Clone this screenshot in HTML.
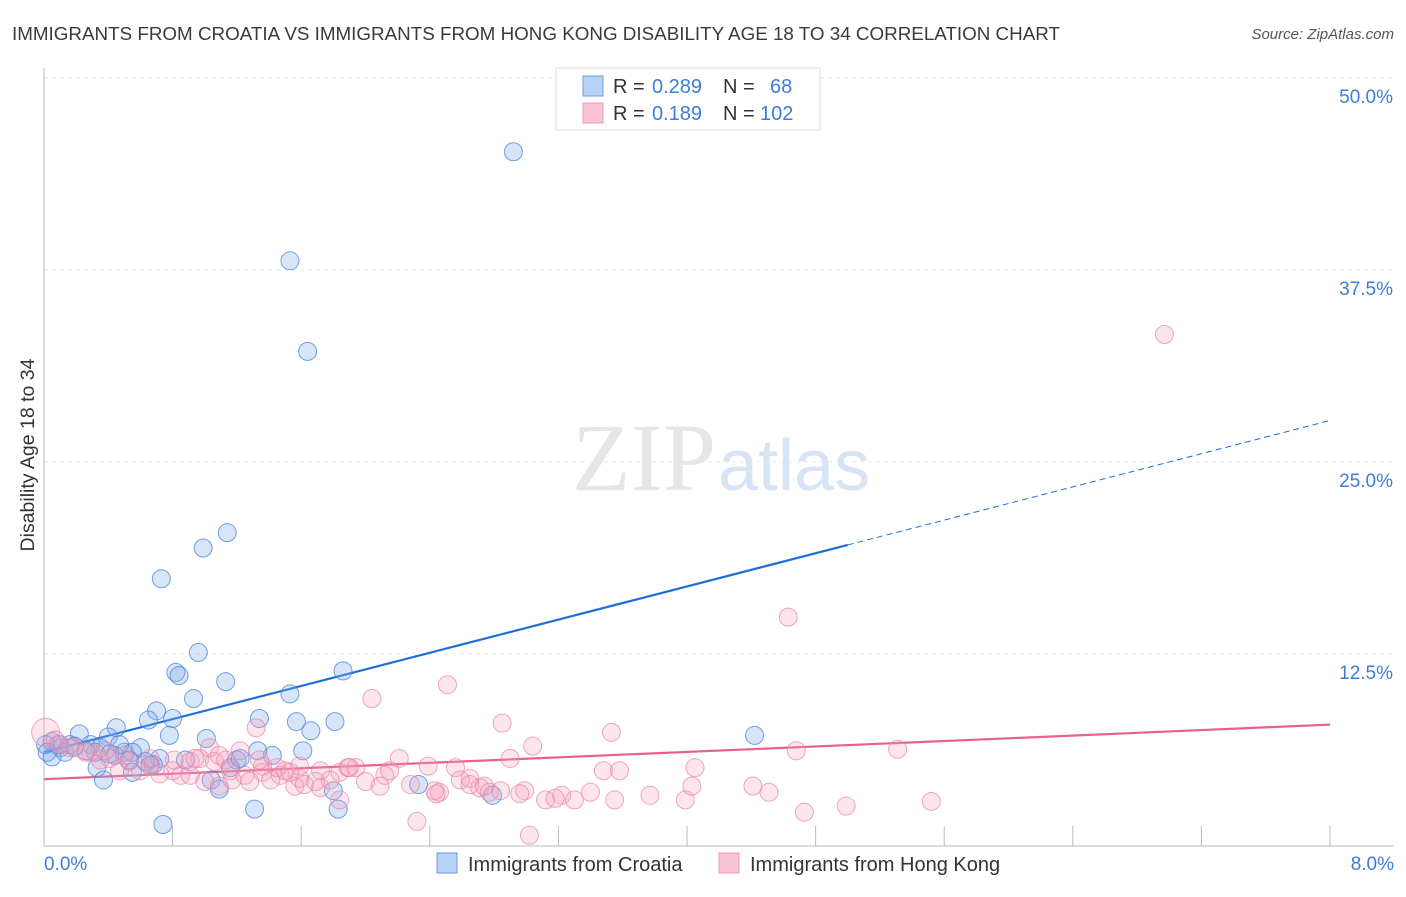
<!DOCTYPE html>
<html><head><meta charset="utf-8"><style>
body{margin:0;background:#fff;font-family:"Liberation Sans",sans-serif;}
</style></head><body>
<svg id="chart" width="1406" height="892" xmlns="http://www.w3.org/2000/svg" font-family="Liberation Sans, sans-serif">
<text x="12" y="40" font-size="18" fill="#3a3a3a" textLength="1048" lengthAdjust="spacingAndGlyphs">IMMIGRANTS FROM CROATIA VS IMMIGRANTS FROM HONG KONG DISABILITY AGE 18 TO 34 CORRELATION CHART</text>
<text x="1394" y="39" font-size="15" fill="#555" font-style="italic" text-anchor="end">Source: ZipAtlas.com</text>
<text x="716" y="490" font-size="96" fill="#e6e6e6" text-anchor="end" font-family="Liberation Serif, serif">ZIP</text>
<text x="718" y="490" font-size="72" fill="#d6e4f5">atlas</text>
<g id="grid"></g><g id="axes"></g><g id="lines"></g><g id="pts"></g>
<text transform="translate(34,455) rotate(-90)" font-size="19.5" fill="#333" text-anchor="middle">Disability Age 18 to 34</text>
<text x="44" y="870" font-size="19" fill="#3d7dd8">0.0%</text>
<text x="1394" y="870" font-size="19" fill="#3d7dd8" text-anchor="end">8.0%</text>
<g>
<rect x="556" y="68" width="264" height="62" fill="#fff" stroke="#ddd"/>
<rect x="583" y="76" width="20" height="20" fill="#b8d3f5" stroke="#6a9ee0"/>
<rect x="583" y="103" width="20" height="20" fill="#f9c4d4" stroke="#ee9ab5"/>
<text y="93" font-size="20" fill="#333"><tspan x="613">R =</tspan><tspan x="652" fill="#3d7dd8">0.289</tspan><tspan x="723">N =</tspan><tspan x="770" fill="#3d7dd8">68</tspan></text>
<text y="120" font-size="20" fill="#333"><tspan x="613">R =</tspan><tspan x="652" fill="#3d7dd8">0.189</tspan><tspan x="723">N =</tspan><tspan x="760" fill="#3d7dd8">102</tspan></text>
</g>
<g>
<rect x="437" y="853" width="20" height="20" fill="#b8d3f5" stroke="#6a9ee0"/>
<text x="468" y="871" font-size="20" fill="#333">Immigrants from Croatia</text>
<rect x="719" y="853" width="20" height="20" fill="#f9c4d4" stroke="#ee9ab5"/>
<text x="750" y="871" font-size="20" fill="#333">Immigrants from Hong Kong</text>
</g>
</svg>
<script>
const yTicks=[12.5,25,37.5,50];
const yTickLabels=["12.5%","25.0%","37.5%","50.0%"];
const xTicks=[0.8,1.6,2.4,3.2,4.0,4.8,5.6,6.4,7.2,8.0];
const croatiaX=[2.92,1.53,1.64,1.14,0.99,0.73,0.96,0.82,0.84,1.13,0.93,0.70,0.65,0.80,1.53,1.86,1.34,1.57,1.66,1.81,1.01,0.45,0.40,0.22,0.05,0.10,0.16,0.29,0.35,0.50,0.60,0.55,0.72,0.05,0.33,0.37,0.55,0.68,0.88,1.20,1.42,1.61,1.33,1.04,1.09,1.31,1.83,1.80,2.79,2.33,0.74,4.42,1.16,0.63,0.44,0.26,0.13,0.19,0.47,0.66,1.22,0.09,0.32,0.01,0.41,0.53,0.78,0.02];
const croatiaY=[45.2,38.1,32.2,20.4,19.4,17.4,12.6,11.3,11.1,10.7,9.6,8.8,8.2,8.3,9.9,11.4,8.3,8.1,7.5,8.1,7.0,7.7,7.1,7.3,6.8,6.4,6.6,6.6,6.4,6.1,6.4,6.1,5.7,5.8,5.1,4.3,4.8,5.3,5.6,5.6,5.9,6.2,6.2,4.3,3.7,2.4,2.4,3.6,3.3,4.0,1.4,7.2,5.1,5.5,5.9,6.2,6.1,6.5,6.6,5.3,5.7,6.6,6.1,6.6,6.0,5.6,7.2,6.1];
const hkX=[6.97,4.63,2.51,2.04,2.85,3.53,3.04,4.68,5.31,1.32,0.01,0.10,0.19,0.29,0.41,0.53,0.66,0.80,0.91,0.97,1.06,1.16,1.25,1.36,1.47,1.59,1.72,1.84,1.94,2.12,2.21,2.39,2.56,2.65,2.71,2.77,2.90,2.99,3.12,3.22,3.30,3.40,3.48,3.55,3.77,3.99,4.05,4.03,4.41,4.51,4.73,4.99,5.52,2.32,3.02,2.46,2.59,2.09,1.72,1.84,1.56,1.41,1.09,0.85,0.72,0.47,0.35,0.26,0.16,0.07,1.00,1.17,1.28,1.50,1.62,1.89,2.15,2.28,2.44,2.65,2.84,2.96,3.18,3.58,1.03,1.22,1.59,1.90,0.66,0.50,0.38,0.60,0.94,1.36,1.45,0.91,1.13,0.81,2.00,1.78,1.69,2.43,2.74,1.09,1.34,1.53];
const hkY=[33.3,14.9,10.5,9.6,8.0,7.4,6.5,6.2,6.3,7.7,7.4,6.6,6.4,6.1,5.7,5.5,5.2,4.9,5.5,5.7,5.5,4.9,4.6,4.8,4.6,4.4,4.9,4.8,5.1,4.6,5.7,5.2,5.1,4.4,3.8,3.5,5.7,3.6,3.0,3.3,3.0,3.5,4.9,3.0,3.3,3.0,5.1,3.9,3.9,3.5,2.2,2.6,2.9,1.6,0.7,3.5,4.3,3.9,3.8,3.0,3.9,4.3,3.9,4.6,4.7,4.9,5.6,6.1,6.4,6.9,4.2,4.3,4.2,4.9,4.0,5.1,4.9,4.0,3.4,4.0,3.6,3.4,3.1,4.9,6.4,6.2,5.2,5.1,5.7,5.9,6.2,4.9,5.7,5.2,5.1,4.6,5.6,5.6,4.2,4.3,4.2,3.6,3.9,5.9,5.6,4.8];
const croatiaTrend=[6.1,27.7];
const hkTrend=[4.35,7.9];
const xMax=8, yMax=50;
const X=v=>44+v*(1330-44)/xMax;
const Y=v=>846-v*(846-78)/yMax;
const NS="http://www.w3.org/2000/svg";
function mk(tag,attrs,parent){const e=document.createElementNS(NS,tag);for(const k in attrs)e.setAttribute(k,attrs[k]);document.getElementById(parent).appendChild(e);return e;}
yTicks.forEach((t,i)=>{
 const g=mk('line',{x1:44,x2:1394,y1:Y(t),y2:Y(t),stroke:'#e8e8e8','stroke-dasharray':'4,4'},'grid');
 
 
 const l=mk('text',{x:1393,y:Y(t)+25,'font-size':19,fill:'#3d7dd8','text-anchor':'end'},'grid');
 l.textContent=yTickLabels[i];
 
 
});
const ax=mk('line',{x1:44,x2:44,y1:68,y2:846,stroke:'#bbb'},'axes');


const bx=mk('line',{x1:44,x2:1394,y1:846,y2:846,stroke:'#bbb'},'axes');


xTicks.forEach(t=>{
 const k=mk('line',{x1:X(t),x2:X(t),y1:826,y2:846,stroke:'#bbb'},'axes');
 
 
});
croatiaX.forEach((x,i)=>{
 const c=mk('circle',{cx:X(x),cy:Y(croatiaY[i]),r:9,fill:'rgba(130,175,235,0.32)',stroke:'rgba(70,130,215,0.75)','stroke-width':1},'pts');
 
 
});
hkX.forEach((x,i)=>{
 const c=mk('circle',{cx:X(x),cy:Y(hkY[i]),r:i==10?14:9,fill:'rgba(245,160,190,0.28)',stroke:'rgba(232,130,165,0.7)','stroke-width':1},'pts');
 
 
});
const bAt=v=>croatiaTrend[0]+(croatiaTrend[1]-croatiaTrend[0])*v/xMax;
const l1=mk('line',{x1:X(0),y1:Y(bAt(0)),x2:X(5),y2:Y(bAt(5)),stroke:'#1f6fd8','stroke-width':2.2},'lines');


const l2=mk('line',{x1:X(5),y1:Y(bAt(5)),x2:X(8),y2:Y(bAt(8)),stroke:'#1f6fd8','stroke-width':1,'stroke-dasharray':'6,4'},'lines');


const l3=mk('line',{x1:X(0),y1:Y(hkTrend[0]),x2:X(8),y2:Y(hkTrend[1]),stroke:'#e8608e','stroke-width':2.2},'lines');


</script>
</body></html>
